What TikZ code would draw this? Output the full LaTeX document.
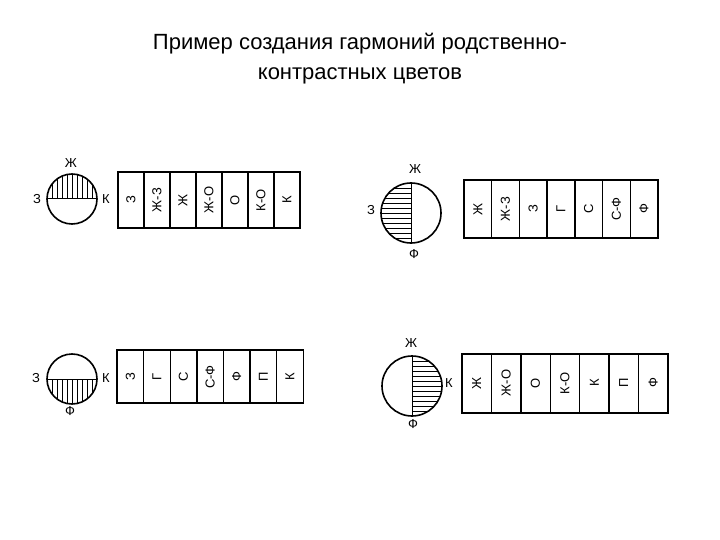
\documentclass[tikz,border=0pt]{standalone}
\usepackage{fontspec}
\setmainfont{Liberation Sans}
\begin{document}
\begin{tikzpicture}[x=1pt,y=-1pt,
  circ/.style={draw,line width=1.6pt},
  cell/.style={draw,line width=1.4pt},
  lab/.style={font=\fontsize{13}{14}\selectfont,inner sep=1pt},
  ctext/.style={font=\fontsize{13}{14}\selectfont,rotate=90,inner sep=0pt},
  hatch/.style={line width=0.6pt}]
\useasboundingbox (0,0) rectangle (720,540);
\node[font=\fontsize{22}{30}\selectfont,align=center] (title) at (360,59) {Пример создания гармоний родственно-\\контрастных цветов};
% Panel 1
\coordinate (c1) at (72,199);
\begin{scope}\clip (c1) circle (25); \clip (47,174) rectangle (97,199);
 \foreach \x in {52,57,...,97} \draw[hatch] (\x,170) -- (\x,199);\end{scope}
\draw[line width=1pt] (47,199) -- (97,199);
\draw[circ] (c1) circle (25);
\node[lab] (p1a) at (71,163) {Ж};
\node[lab] (p1b) at (37,199) {З};
\node[lab] (p1c) at (106,199) {К};
\foreach \t [count=\i] in {З,Ж-З,Ж,Ж-О,О,К-О,К}{
 \draw[cell] ({118+(\i-1)*26},172) rectangle ({118+\i*26},228);
 \node[ctext] (p1t\i) at ({131+(\i-1)*26},200) {\t};}
% Panel 2
\coordinate (c2) at (411,213);
\begin{scope}\clip (c2) circle (30); \clip (380,183) rectangle (411,243);
 \foreach \y in {188,193,...,243} \draw[hatch] (380,\y) -- (411,\y);\end{scope}
\draw[line width=1pt] (411,183) -- (411,243);
\draw[circ] (c2) circle (30);
\node[lab] (p2a) at (415,169) {Ж};
\node[lab] (p2b) at (371,210) {З};
\node[lab] (p2c) at (414,254) {Ф};
\foreach \t [count=\i] in {Ж,Ж-З,З,Г,С,С-Ф,Ф}{
 \draw[cell] ({464+(\i-1)*27.7},180) rectangle ({464+\i*27.7},238);
 \node[ctext] (p2t\i) at ({477.8+(\i-1)*27.7},209) {\t};}
% Panel 3
\coordinate (c3) at (72,379);
\begin{scope}\clip (c3) circle (25); \clip (47,379) rectangle (97,404);
 \foreach \x in {52,57,...,97} \draw[hatch] (\x,379) -- (\x,404);\end{scope}
\draw[line width=1pt] (47,379) -- (97,379);
\draw[circ] (c3) circle (25);
\node[lab] (p3a) at (36,378) {З};
\node[lab] (p3b) at (106,378) {К};
\node[lab] (p3c) at (70,411) {Ф};
\foreach \t [count=\i] in {З,Г,С,С-Ф,Ф,П,К}{
 \draw[cell] ({117+(\i-1)*26.6},350) rectangle ({117+\i*26.6},403);
 \node[ctext] (p3t\i) at ({130.3+(\i-1)*26.6},377) {\t};}
% Panel 4
\coordinate (c4) at (412,386);
\begin{scope}\clip (c4) circle (30); \clip (412,356) rectangle (442,416);
 \foreach \y in {361,366,...,416} \draw[hatch] (412,\y) -- (442,\y);\end{scope}
\draw[line width=1pt] (412,356) -- (412,416);
\draw[circ] (c4) circle (30);
\node[lab] (p4a) at (411,343) {Ж};
\node[lab] (p4b) at (449,383) {К};
\node[lab] (p4c) at (413,424) {Ф};
\foreach \t [count=\i] in {Ж,Ж-О,О,К-О,К,П,Ф}{
 \draw[cell] ({462+(\i-1)*29.4},354) rectangle ({462+\i*29.4},413);
 \node[ctext] (p4t\i) at ({476.7+(\i-1)*29.4},383) {\t};}
\end{tikzpicture}
\end{document}
